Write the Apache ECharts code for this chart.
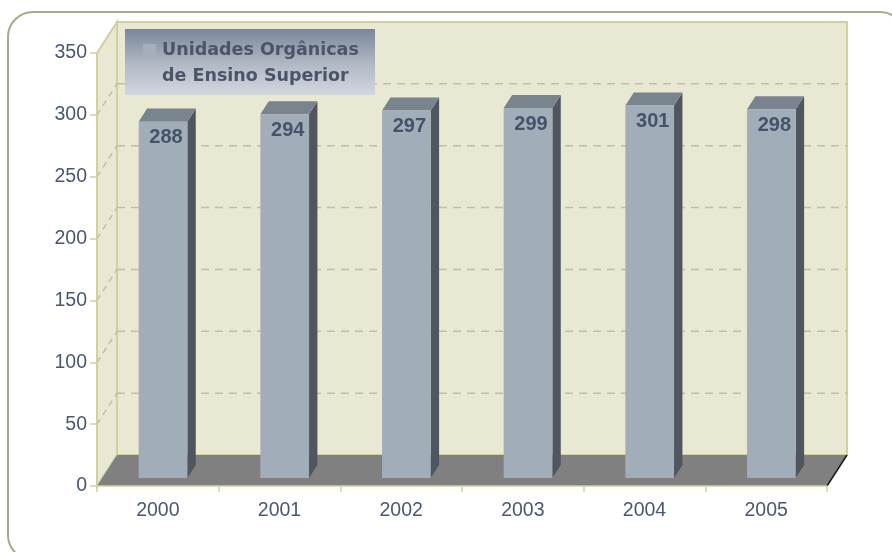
<!DOCTYPE html>
<html>
<head>
<meta charset="utf-8">
<script src="https://cdn.jsdelivr.net/npm/echarts@6/dist/echarts.min.js"></script>
<style>
html,body{margin:0;padding:0;background:#ffffff;}
#chart{width:892px;height:552px;}
</style>
</head>
<body>
<div id="chart"></div>
<script>
// ---- data ----
const years = ['2000', '2001', '2002', '2003', '2004', '2005'];
const unidades = [288, 294, 297, 299, 301, 298];
const yTicks = [0, 50, 100, 150, 200, 250, 300, 350];
const seriesName = 'Unidades Orgânicas\nde Ensino Superior';

// ---- style constants ----
const DX = 20, DY = -31;            // depth of the 3D box (pixels)
const BAR_FRONT = 0.26, BAR_DEPTH = 0.42;
const TEXT = '#4a5870';
const WALL = '#e8e8d3', WALL_EDGE = '#d0d0a0', GRID = '#c0c0a8';

const chart = echarts.init(document.getElementById('chart'), null, {renderer: 'canvas'});

const option = {
  backgroundColor: '#ffffff',
  animation: false,
  grid: {left: 97, right: 65, top: 53, bottom: 66, containLabel: false},
  xAxis: {
    type: 'category',
    data: years,
    boundaryGap: true,
    axisLine: {show: true, lineStyle: {color: WALL_EDGE, width: 1.5}},
    axisTick: {show: true, length: 6, lineStyle: {color: WALL_EDGE, width: 1.5}},
    axisLabel: {color: TEXT, fontSize: 19.5, fontFamily: 'Liberation Sans', margin: 15},
    splitLine: {show: false},
    z: 3
  },
  yAxis: {
    type: 'value',
    min: 0, max: 350, interval: 50,
    axisLine: {show: true, lineStyle: {color: WALL_EDGE, width: 1.5}},
    axisTick: {show: true, length: 7, lineStyle: {color: WALL_EDGE, width: 1.5}},
    axisLabel: {color: TEXT, fontSize: 19.5, fontFamily: 'Liberation Sans', margin: 10},
    splitLine: {show: false},
    z: 3
  },
  graphic: [
    {
      type: 'rect', z: -10, silent: true,
      shape: {x: 8, y: 12, width: 897, height: 548, r: 25},
      style: {fill: 'none', stroke: '#a8a88c', lineWidth: 2}
    },
    {
      type: 'group', left: 125, top: 29, z: 50,
      children: [
        {
          type: 'rect', shape: {x: 0, y: 0, width: 250, height: 66},
          style: {fill: new echarts.graphic.LinearGradient(0, 0, 0, 1, [
            {offset: 0, color: '#7b8698'},
            {offset: 0.55, color: '#b3bac6'},
            {offset: 1, color: '#d2d7df'}
          ])}
        },
        {
          type: 'rect', shape: {x: 18, y: 15, width: 13, height: 13},
          style: {fill: '#a5afbc'}
        },
        {
          type: 'text', x: 37, y: 8,
          style: {
            text: seriesName,
            font: 'bold 17.5px "DejaVu Sans"',
            fill: '#4a5568',
            lineHeight: 26,
            align: 'left', verticalAlign: 'top'
          }
        }
      ]
    }
  ],
  series: [
    {
      type: 'custom',
      name: 'frame',
      z: -1,
      silent: true,
      data: [[0, 0]],
      encode: {x: 0, y: 1},
      renderItem: function (params, api) {
        const cs = params.coordSys;
        const gx = cs.x, gy = cs.y, gw = cs.width, gh = cs.height;
        const children = [];
        // back wall
        children.push({
          type: 'rect',
          shape: {x: gx + DX, y: gy + DY, width: gw, height: gh},
          style: {fill: WALL, stroke: WALL_EDGE, lineWidth: 2}
        });
        // left wall
        children.push({
          type: 'polygon',
          shape: {points: [[gx, gy + gh], [gx, gy], [gx + DX, gy + DY], [gx + DX, gy + gh + DY]]},
          style: {fill: WALL, stroke: WALL_EDGE, lineWidth: 2}
        });
        // grid lines
        yTicks.forEach(function (v) {
          if (v === 0 || v === 350) return;
          const y = api.coord([0, v])[1];
          children.push({
            type: 'line',
            shape: {x1: gx + DX, y1: y + DY, x2: gx + gw + DX, y2: y + DY},
            style: {stroke: GRID, lineWidth: 1.5, lineDash: [8, 6]}
          });
          children.push({
            type: 'line',
            shape: {x1: gx, y1: y, x2: gx + DX, y2: y + DY},
            style: {stroke: GRID, lineWidth: 1.5, lineDash: [6, 5]}
          });
        });
        // floor
        children.push({
          type: 'polygon',
          shape: {points: [[gx, gy + gh], [gx + gw, gy + gh], [gx + gw + DX, gy + gh + DY], [gx + DX, gy + gh + DY]]},
          style: {fill: '#808080'}
        });
        children.push({
          type: 'line',
          shape: {x1: gx + gw, y1: gy + gh, x2: gx + gw + DX, y2: gy + gh + DY},
          style: {stroke: '#1a1a1a', lineWidth: 1.5}
        });
        return {type: 'group', children: children};
      }
    },
    {
      type: 'custom',
      name: 'Unidades Orgânicas de Ensino Superior',
      z: 5,
      data: unidades.map(function (v, i) { return [i, v]; }),
      encode: {x: 0, y: 1},
      renderItem: function (params, api) {
        const idx = api.value(0), v = api.value(1);
        const top = api.coord([idx, v]);
        const base = api.coord([idx, 0]);
        const bw = api.size([1, 0])[0] * 0.40;
        const ox = DX * BAR_FRONT, oy = DY * BAR_FRONT;
        const dx = DX * BAR_DEPTH, dy = DY * BAR_DEPTH;
        const x = top[0] + ox - bw / 2;
        const y = top[1] + oy;
        const yb = base[1] + oy;
        return {
          type: 'group',
          children: [
            {type: 'polygon', shape: {points: [[x + bw, y], [x + bw + dx, y + dy], [x + bw + dx, yb + dy], [x + bw, yb]]},
              style: {fill: '#50565f'}},
            {type: 'polygon', shape: {points: [[x, y], [x + dx, y + dy], [x + bw + dx, y + dy], [x + bw, y]]},
              style: {fill: '#7a848f'}},
            {type: 'rect', shape: {x: x, y: y, width: bw, height: yb - y},
              style: {fill: '#a2adba'}},
            {type: 'text', x: x + bw / 2 + 3, y: y + 16,
              style: {text: String(v), font: 'bold 20px "Liberation Sans"', fill: '#44536a',
                align: 'center', verticalAlign: 'middle'}}
          ]
        };
      }
    }
  ]
};

chart.setOption(option);
</script>
</body>
</html>
